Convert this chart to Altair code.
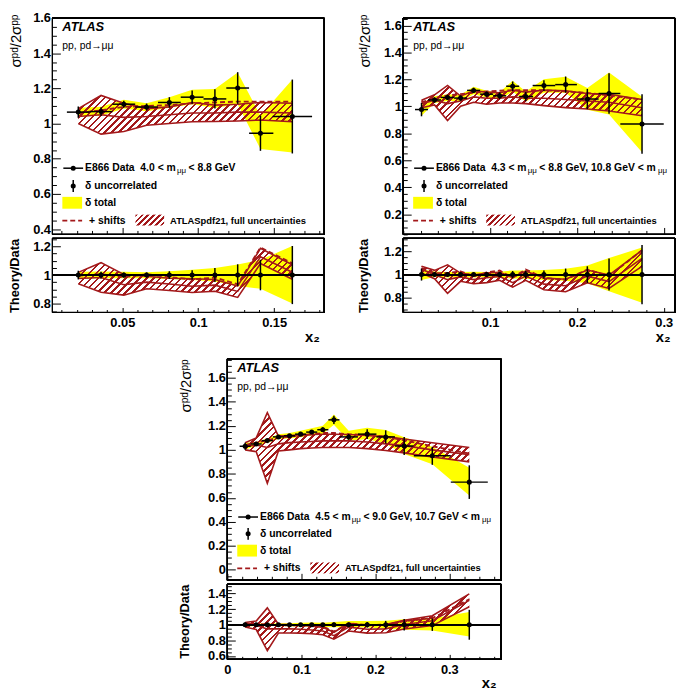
import altair as alt
import numpy as np
import pandas as pd

# ---------------- Panel A : E866 Data 4.0 < m < 8.8 GeV ----------------
A_x     = [0.021, 0.036, 0.051, 0.066, 0.081, 0.096, 0.111, 0.126, 0.141, 0.162]
A_xlo   = [0.0135, 0.0285, 0.0435, 0.0585, 0.0735, 0.0885, 0.1035, 0.1185, 0.1335, 0.149]
A_xhi   = [0.0285, 0.0435, 0.0585, 0.0735, 0.0885, 0.1035, 0.1185, 0.1335, 0.1495, 0.175]
A_y     = [1.065, 1.068, 1.110, 1.094, 1.120, 1.150, 1.140, 1.202, 0.945, 1.040]
A_unc   = [0.032, 0.025, 0.020, 0.020, 0.030, 0.038, 0.055, 0.090, 0.100, 0.210]
A_totlo = [1.040, 1.045, 1.085, 1.070, 1.090, 1.110, 1.088, 1.110, 0.855, 0.835]
A_tothi = [1.090, 1.095, 1.135, 1.115, 1.150, 1.192, 1.196, 1.290, 1.045, 1.250]
A_thlo  = [1.000, 0.940, 0.955, 0.990, 1.000, 1.010, 1.012, 1.015, 1.020, 1.010]
A_thhi  = [1.085, 1.160, 1.115, 1.085, 1.095, 1.120, 1.105, 1.110, 1.120, 1.115]
A_thc   = [1.040, 1.050, 1.035, 1.040, 1.050, 1.060, 1.060, 1.065, 1.065, 1.060]
A_shift = [1.060, 1.075, 1.095, 1.100, 1.105, 1.115, 1.120, 1.125, 1.125, 1.125]

# ---------------- Panel B : 4.3 < m < 8.8 GeV, 10.8 GeV < m ----------------
B_x     = [0.021, 0.036, 0.051, 0.066, 0.081, 0.096, 0.111, 0.126, 0.141, 0.162, 0.187, 0.212, 0.237, 0.275]
B_xlo   = [0.0135, 0.0285, 0.0435, 0.0585, 0.0735, 0.0885, 0.1035, 0.1185, 0.1335, 0.149, 0.175, 0.200, 0.225, 0.250]
B_xhi   = [0.0285, 0.0435, 0.0585, 0.0735, 0.0885, 0.1035, 0.1185, 0.1335, 0.1495, 0.175, 0.200, 0.225, 0.250, 0.300]
B_y     = [0.976, 1.047, 1.066, 1.061, 1.118, 1.090, 1.078, 1.149, 1.073, 1.154, 1.161, 1.054, 1.095, 0.869]
B_unc   = [0.050, 0.020, 0.020, 0.020, 0.020, 0.020, 0.025, 0.035, 0.035, 0.040, 0.060, 0.075, 0.150, 0.220]
B_totlo = [0.930, 1.025, 1.040, 1.035, 1.090, 1.065, 1.050, 1.110, 1.035, 1.100, 1.100, 0.975, 0.940, 0.660]
B_tothi = [1.020, 1.075, 1.090, 1.085, 1.145, 1.115, 1.105, 1.190, 1.110, 1.200, 1.220, 1.135, 1.250, 1.070]
B_thlo  = [0.990, 1.010, 0.895, 1.000, 1.030, 1.015, 1.025, 1.025, 1.020, 1.005, 0.990, 0.980, 0.965, 0.930]
B_thhi  = [1.045, 1.085, 1.155, 1.075, 1.115, 1.105, 1.100, 1.120, 1.105, 1.120, 1.115, 1.095, 1.090, 1.050]
B_thc   = [1.020, 1.045, 1.020, 1.040, 1.070, 1.060, 1.060, 1.070, 1.060, 1.060, 1.050, 1.040, 1.030, 0.990]
B_shift = [1.030, 1.060, 1.080, 1.090, 1.100, 1.110, 1.115, 1.120, 1.120, 1.120, 1.110, 1.100, 1.080, 1.050]

# ---------------- Panel C : 4.5 < m < 9.0 GeV, 10.7 GeV < m ----------------
C_x     = [0.024, 0.039, 0.054, 0.069, 0.084, 0.099, 0.114, 0.129, 0.144, 0.164, 0.189, 0.214, 0.239, 0.277, 0.327]
C_xlo   = [0.0165, 0.0315, 0.0465, 0.0615, 0.0765, 0.0915, 0.1065, 0.1215, 0.1365, 0.1515, 0.1765, 0.2015, 0.2265, 0.252, 0.302]
C_xhi   = [0.0315, 0.0465, 0.0615, 0.0765, 0.0915, 0.1065, 0.1215, 0.1365, 0.1515, 0.1765, 0.2015, 0.2265, 0.2515, 0.302, 0.352]
C_y     = [1.030, 1.049, 1.077, 1.108, 1.117, 1.131, 1.148, 1.168, 1.250, 1.108, 1.131, 1.108, 1.032, 0.950, 0.731]
C_unc   = [0.030, 0.015, 0.015, 0.015, 0.015, 0.015, 0.015, 0.020, 0.035, 0.025, 0.040, 0.055, 0.075, 0.075, 0.140]
C_totlo = [1.000, 1.035, 1.060, 1.090, 1.095, 1.105, 1.120, 1.135, 1.210, 1.075, 1.090, 1.050, 0.965, 0.880, 0.620]
C_tothi = [1.060, 1.065, 1.095, 1.130, 1.140, 1.160, 1.180, 1.200, 1.295, 1.160, 1.185, 1.165, 1.105, 1.025, 0.850]
C_thlo  = [1.000, 0.985, 0.720, 0.990, 1.000, 1.010, 1.015, 1.020, 1.020, 1.020, 1.010, 0.995, 0.975, 0.940, 0.900]
C_thhi  = [1.060, 1.100, 1.310, 1.115, 1.120, 1.125, 1.128, 1.130, 1.130, 1.128, 1.120, 1.110, 1.090, 1.060, 1.020]
C_thc   = [1.030, 1.040, 1.020, 1.050, 1.060, 1.065, 1.070, 1.075, 1.075, 1.075, 1.065, 1.050, 1.035, 1.000, 0.960]
C_shift = [1.040, 1.060, 1.080, 1.100, 1.110, 1.120, 1.130, 1.140, 1.140, 1.130, 1.125, 1.110, 1.080, 1.030, 0.970]

# ---------------- axis ticks ----------------
A_xticks = [0.05, 0.1, 0.15]
B_xticks = [0.1, 0.2, 0.3]
C_xticks = [0.0, 0.1, 0.2, 0.3]
A_yticks = [0.4, 0.6, 0.8, 1.0, 1.2, 1.4, 1.6]
B_yticks = [0.2, 0.4, 0.6, 0.8, 1.0, 1.2, 1.4, 1.6]
C_yticks = [0.0, 0.2, 0.4, 0.6, 0.8, 1.0, 1.2, 1.4, 1.6]
A_rticks = [0.8, 1.0, 1.2]
B_rticks = [0.8, 1.0, 1.2]
C_rticks = [0.6, 0.8, 1.0, 1.2, 1.4]

YELLOW = "#ffff00"
RED = "#a3191b"
FONT = "Liberation Sans, DejaVu Sans"
W, H = 677, 688
DUMMY = pd.DataFrame({"d": [0]})
NB = "\u00a0"


def minor(lo, hi, step, majors):
    vals = np.round(np.arange(np.ceil(lo / step) * step, hi + 1e-9, step), 4)
    return [float(v) for v in vals if all(abs(v - m) > 1e-6 for m in majors)]


def hatch(wpx, hpx, period=7.0, frac=0.38):
    a, b = 1.0 / hpx, 1.0 / wpx
    lam = (a + b) / (a * a + b * b)
    ds = period / (wpx + hpx)
    stops = []
    k = 0
    clear = "rgba(255,255,255,0)"
    while k * ds < 1.0:
        s0 = k * ds
        s1 = min(s0 + frac * ds, 1.0)
        s2 = min(s0 + ds, 1.0)
        stops += [{"offset": round(s0, 5), "color": RED}, {"offset": round(s1, 5), "color": RED},
                  {"offset": round(s1, 5), "color": clear}, {"offset": round(s2, 5), "color": clear}]
        k += 1
    return {"gradient": "linear", "x1": 0, "y1": 0, "x2": lam * a, "y2": lam * b, "stops": stops}


def frames(x, xlo, xhi, y, unc, tlo, thi, hlo, hhi, hc, sh):
    x, y, unc = np.array(x), np.array(y), np.array(unc)
    tlo, thi, hlo, hhi, hc, sh = map(np.array, (tlo, thi, hlo, hhi, hc, sh))
    main = pd.DataFrame(dict(x=x, xlo=xlo, xhi=xhi, y=y, ylo=y - unc, yhi=y + unc,
                             tlo=tlo, thi=thi, hlo=hlo, hhi=hhi, hc=hc, sh=sh))
    ratio = pd.DataFrame(dict(x=x, xlo=xlo, xhi=xhi, y=np.ones_like(y), ylo=1 - unc / y, yhi=1 + unc / y,
                              tlo=tlo / y, thi=thi / y, hlo=hlo / y, hhi=hhi / y, hc=hc / y, sh=sh / y))
    return main, ratio


def panel(df, xdom, xr, ydom, yr, xmaj, xminor, ymaj, yminor, is_ratio, xlabels,
          ytitle, ytitle_x, ytitle_y, ytitle_size, ytitle_weight, xtick, xtick_minor):
    sx = alt.Scale(domain=list(xdom), range=list(xr), nice=False, zero=False)
    sy = alt.Scale(domain=list(ydom), range=list(yr), nice=False, zero=False)

    def X(f):
        return alt.X(f, type="quantitative", scale=sx, axis=None)

    def Y(f):
        return alt.Y(f, type="quantitative", scale=sy, axis=None)

    base = alt.Chart(df)
    wpx = (df.x.max() - df.x.min()) / (xdom[1] - xdom[0]) * (xr[1] - xr[0])
    hpx = (df.hhi.max() - df.hlo.min()) / (ydom[1] - ydom[0]) * abs(yr[0] - yr[1])
    layers = [
        base.mark_area(color=YELLOW, opacity=1).encode(x=X("x"), y=Y("tlo"), y2=alt.Y2("thi")),
        base.mark_area(fill=hatch(wpx, hpx), strokeWidth=0).encode(x=X("x"), y=Y("hlo"), y2=alt.Y2("hhi")),
    ]
    for col in ("hlo", "hhi", "hc"):
        layers.append(base.mark_line(color=RED, strokeWidth=1.6).encode(x=X("x"), y=Y(col)))
    layers.append(base.mark_line(color=RED, strokeWidth=1.9, strokeDash=[5, 3]).encode(x=X("x"), y=Y("sh")))
    if is_ratio:
        layers.append(base.mark_rule(color="black", strokeWidth=1.2).encode(
            x=alt.XDatum(xdom[0], scale=sx, axis=None), x2=alt.X2Datum(xdom[1]),
            y=alt.YDatum(1.0, scale=sy, axis=None)))
    else:
        layers.append(base.mark_rule(color="black", strokeWidth=1.5).encode(x=X("xlo"), x2=alt.X2("xhi"), y=Y("y")))
    layers.append(base.mark_rule(color="black", strokeWidth=1.5).encode(x=X("x"), y=Y("ylo"), y2=alt.Y2("yhi")))
    layers.append(base.mark_circle(color="black", size=26, opacity=1).encode(x=X("x"), y=Y("y")))

    # frame carrying major axes
    xax = dict(orient="bottom", offset=yr[0] - H, values=xmaj, domain=False, grid=False, zindex=1,
               ticks=True, tickSize={"expr": str(-xtick)}, tickColor="black", tickWidth=1,
               labels=xlabels, labelPadding=xtick + 4, labelFont=FONT, labelFontSize=13,
               labelFontWeight="bold", labelColor="black", format="~g", labelFlush=False,
               labelOverlap=False)
    if xlabels:
        xax.update(title="x\u2082", titleX=xr[1] - 5, titleY=29, titleAlign="right",
                   titleBaseline="alphabetic", titleFont=FONT, titleFontSize=15,
                   titleFontWeight="bold", titleColor="black", titleAngle=0)
    else:
        xax.update(title=None)
    yax = dict(orient="left", offset=-xr[0], values=ymaj, domain=False, grid=False, zindex=1,
               ticks=True, tickSize={"expr": "-8"}, tickColor="black", tickWidth=1,
               labels=True, labelPadding=8 + 2, labelFont=FONT, labelFontSize=13,
               labelFontWeight="bold", labelColor="black", format="~g", labelFlush=False,
               labelOverlap=False,
               title=ytitle, titleX=ytitle_x, titleY=ytitle_y, titleAngle=270, titleAlign="right",
               titleBaseline="middle", titleFont=FONT, titleFontSize=ytitle_size,
               titleFontWeight=ytitle_weight, titleColor="black")
    layers.append(base.mark_rect(filled=False, stroke="black", strokeWidth=1).encode(
        x=alt.XDatum(xdom[0], scale=sx, axis=alt.Axis(**xax)), x2=alt.X2Datum(xdom[1]),
        y=alt.YDatum(ydom[0], scale=sy, axis=alt.Axis(**yax)), y2=alt.Y2Datum(ydom[1])))
    # invisible frame carrying minor ticks
    xmn = dict(orient="bottom", offset=yr[0] - H, values=xminor, domain=False, grid=False, zindex=1,
               ticks=True, tickSize={"expr": str(-xtick_minor)}, tickColor="black", tickWidth=1,
               labels=False, title=None)
    ymn = dict(orient="left", offset=-xr[0], values=yminor, domain=False, grid=False, zindex=1,
               ticks=True, tickSize={"expr": "-4"}, tickColor="black", tickWidth=1,
               labels=False, title=None)
    layers.append(base.mark_rect(filled=False, strokeOpacity=0).encode(
        x=alt.XDatum(xdom[0], scale=sx, axis=alt.Axis(**xmn)), x2=alt.X2Datum(xdom[1]),
        y=alt.YDatum(ydom[0], scale=sy, axis=alt.Axis(**ymn)), y2=alt.Y2Datum(ydom[1])))
    return alt.layer(*layers).resolve_axis(x="independent", y="independent")


SIG = "\u03c3\u1d56\u1d48/2\u03c3\u1d56\u1d56"


def build_pair(data, xdom, xr, mdom, myr, rdom, ryr, xmaj, xstep, ymaj, rmaj, ttop, tx):
    main, ratio = frames(*data)
    pm = panel(main, xdom, xr, mdom, myr, xmaj, minor(xdom[0], xdom[1], xstep, xmaj), ymaj,
               minor(mdom[0], mdom[1], 0.05, ymaj), False, False, SIG, tx, ttop, 15, "normal", 7, 4)
    pr = panel(ratio, xdom, xr, rdom, ryr, xmaj, minor(xdom[0], xdom[1], xstep, xmaj), rmaj,
               minor(rdom[0], rdom[1], 0.05, rmaj), True, True, "Theory/Data", tx - 1, ryr[1], 13, "bold", 5, 3)
    return [pm, pr]


# ----------------- text helpers (page coordinates) -----------------
def txt(px, py, s, size=10.5, weight="bold", style="normal", align="left", baseline="middle"):
    return alt.Chart(DUMMY).mark_text(text=s, font=FONT, fontSize=size, fontWeight=weight, fontStyle=style,
                                      align=align, baseline=baseline, color="black").encode(
        x=alt.value(px - 8), y=alt.value(py - 8))


def rule(px1, py1, px2, py2, color="black", width=1.5, dash=None):
    kw = dict(color=color, strokeWidth=width)
    if dash:
        kw["strokeDash"] = dash
    return alt.Chart(DUMMY).mark_rule(**kw).encode(
        x=alt.value(px1 - 8), y=alt.value(py1 - 8), x2=alt.value(px2 - 8), y2=alt.value(py2 - 8))


def dot(px, py):
    return alt.Chart(DUMMY).mark_circle(color="black", size=26, opacity=1).encode(
        x=alt.value(px - 8), y=alt.value(py - 8))


def box(px1, py1, px2, py2, fill):
    return alt.Chart(DUMMY).mark_rect(fill=fill, strokeWidth=0).encode(
        x=alt.value(px1 - 8), y=alt.value(py1 - 8), x2=alt.value(px2 - 8), y2=alt.value(py2 - 8))


AW = {" ": 278, NB: 278, "<": 584, ".": 278, ",": 278, "E": 667, "D": 722, "a": 556, "t": 333, "m": 889,
      "G": 778, "e": 556, "V": 667}


def tw(s, size):
    return sum(AW.get(c, 556) for c in s) * size / 1000.0


def legend(L, top, rows, pieces):
    out = [txt(L + 10, top + 9, "ATLAS", size=13, style="italic"),
           txt(L + 10, top + 28, "pp, pd\u2192\u03bc\u03bc", size=10.5, weight="normal")]
    r1, r2, r3, r4 = rows
    out += [rule(L + 11, r1, L + 31, r1), dot(L + 21, r1)]
    x = L + 33
    for s, kind in pieces:
        if kind == "n":
            out.append(txt(x, r1, s))
            x += tw(s, 10.5)
        else:
            x += 1
            out.append(txt(x, r1 + 3, s, size=8, weight="normal"))
            x += 2 * 0.576 * 8 + 2.5
    out += [rule(L + 21, r2 - 6, L + 21, r2 + 6), dot(L + 21, r2), txt(L + 33, r2, "\u03b4 uncorrelated")]
    out += [box(L + 10, r3 - 6, L + 30, r3 + 6, YELLOW), txt(L + 33, r3, "\u03b4 total")]
    out += [rule(L + 10, r4, L + 30, r4, color=RED, width=1.9, dash=[5, 3]), txt(L + 37, r4, "+ shifts"),
            box(L + 84, r4 - 6, L + 113, r4 + 5, hatch(29, 11, period=6.0, frac=0.38)),
            txt(L + 119, r4, "ATLASpdf21, full uncertainties", size=9.5)]
    return out


A_data = (A_x, A_xlo, A_xhi, A_y, A_unc, A_totlo, A_tothi, A_thlo, A_thhi, A_thc, A_shift)
B_data = (B_x, B_xlo, B_xhi, B_y, B_unc, B_totlo, B_tothi, B_thlo, B_thhi, B_thc, B_shift)
C_data = (C_x, C_xlo, C_xhi, C_y, C_unc, C_totlo, C_tothi, C_thlo, C_thhi, C_thc, C_shift)

layers = []
layers += build_pair(A_data, (0.004, 0.183), (45, 320), (0.37, 1.6), (225, 6), (0.74, 1.255), (304, 229),
                     A_xticks, 0.01, A_yticks, A_rticks, 2, -37)
layers += build_pair(B_data, (0.0, 0.313), (400, 675), (0.05, 1.655), (225, 6), (0.676, 1.31), (304, 229),
                     B_xticks, 0.02, B_yticks, B_rticks, 2, -39)
layers += build_pair(C_data, (0.0, 0.37), (222, 499), (-0.087, 1.758), (575, 351), (0.557, 1.52), (655, 579),
                     C_xticks, 0.02, C_yticks, C_rticks, 351, -42)

layers += legend(53, 14, (166, 184, 201, 219),
                 [("E866 Data" + NB + NB + "4.0 < m", "n"), ("\u03bc\u03bc", "s"), ("< 8.8 GeV", "n")])
layers += legend(408, 14, (166, 184, 201, 219),
                 [("E866 Data" + NB + NB + "4.3 < m", "n"), ("\u03bc\u03bc", "s"),
                  ("< 8.8 GeV, 10.8 GeV < m", "n"), ("\u03bc\u03bc", "s")])
layers += legend(230, 359, (519, 536, 553, 571),
                 [("E866 Data" + NB + NB + "4.5 < m", "n"), ("\u03bc\u03bc", "s"),
                  ("< 9.0 GeV, 10.7 GeV < m", "n"), ("\u03bc\u03bc", "s")])

chart = alt.layer(*layers).resolve_scale(x="independent", y="independent").properties(
    width=W, height=H, autosize=alt.AutoSizeParams(type="none"), padding=0,
    background="white").configure_view(stroke="transparent")

chart.save("out.html", embed_options={"renderer": "svg", "actions": False})
